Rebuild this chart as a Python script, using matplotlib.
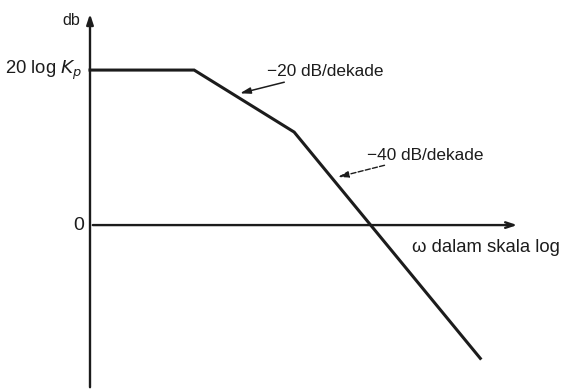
import matplotlib.pyplot as plt

# breakpoints of the asymptotic magnitude plot
omega = [1, 11, 110, 8000]
gain_db = [50, 50, 30, -43]

kp_label = "20 log $K_p$"
slope_labels = ["\u221220 dB/dekade", "\u221240 dB/dekade"]
xlabel = "\u03c9 dalam skala log"
ylabel = "db"

plt.rcParams['font.family'] = ['Liberation Sans', 'DejaVu Sans']

fig = plt.figure(figsize=(5.62, 3.90), dpi=100)
ax = fig.add_axes([0, 0, 1, 1])
ax.set_xscale('log')
ax.set_xlim(10**-0.9, 10**4.72)
ax.set_ylim(-53.2, 72.6)
ax.axis('off')

ink = "#1c1c1c"

# axes with arrow heads
ax.annotate("", xy=(1, 69), xytext=(1, -53.2),
            arrowprops=dict(arrowstyle="-|>,head_length=0.6,head_width=0.2", lw=1.7, color=ink))
ax.annotate("", xy=(10**4.3, 0), xytext=(1, 0),
            arrowprops=dict(arrowstyle="->,head_length=0.6,head_width=0.2", lw=1.7, color=ink))

ax.plot(omega, gain_db, color=ink, lw=2.2, solid_joinstyle='miter')

ax.text(10**-0.1, 66, ylabel, ha='right', va='center', fontsize=11.5, color=ink)
ax.text(10**-0.08, gain_db[0], kp_label, ha='right', va='center', fontsize=13.3, color=ink)
ax.text(10**-0.06, 0, "0", ha='right', va='center', fontsize=14, color=ink)

ax.annotate(slope_labels[0], xy=(10**1.5, 42.5), xytext=(10**1.77, 49.4),
            ha='left', va='center', fontsize=12.4, color=ink,
            arrowprops=dict(arrowstyle="-|>,head_length=0.5,head_width=0.15", lw=1.1,
                            color=ink, shrinkA=0, shrinkB=0))
ax.annotate(slope_labels[1], xy=(10**2.48, 15.5), xytext=(10**2.77, 22.6),
            ha='left', va='center', fontsize=12.4, color=ink,
            arrowprops=dict(arrowstyle="-|>,head_length=0.5,head_width=0.15", lw=1.0,
                            ls='--', color=ink, shrinkA=0, shrinkB=0))
ax.text(10**3.22, -7.1, xlabel, ha='left', va='center', fontsize=13.3, color=ink)

fig.savefig("out.png", dpi=100)
